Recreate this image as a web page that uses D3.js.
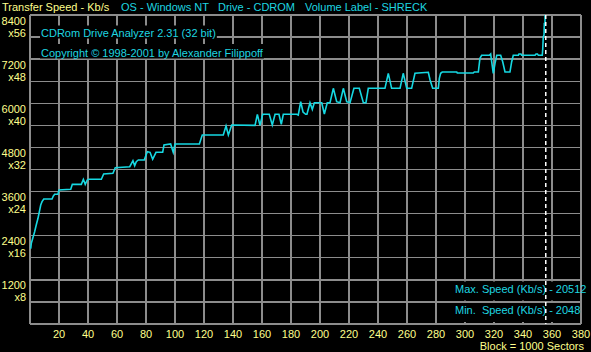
<!DOCTYPE html>
<meta charset="utf-8">
<style>
    body {
        margin: 0;
        background-color: #000;
    }

    svg text {
        font: 11px "Liberation Sans", Arial, sans-serif;
        white-space: pre;
    }

    .grid {
        stroke: #8c8c8c;
        stroke-width: 1.3;
        shape-rendering: crispEdges;
    }

    .trace {
        fill: none;
        stroke: #16d8e2;
        stroke-width: 1.6;
    }

    .yel { fill: #ffff8c; }
    .cyan { fill: #1ed6e0; }
</style>

<body>
    <script src="https://d3js.org/d3.v7.min.js"></script>
    <script>

        // transfer speed readings (block number, Kb/s)
        var blocks = [0.5, 0.9, 2.1, 3.2, 4.3, 5.5, 6.7, 7.4, 8.3, 9.5, 15.2, 16.1, 17.0, 19.3, 20.0, 28.1, 29.2, 35.4,
            36.8, 38.1, 39.5, 40.5, 49.2, 50.8, 57.2, 58.8, 68.8, 71.0, 72.2, 73.3, 74.7, 78.8, 79.8, 80.9, 82.8, 84.6,
            86.9, 91.5, 92.4, 97.0, 98.8, 100.0, 116.8, 118.8, 133.3, 135.2, 136.8, 139.1, 155.2, 156.8, 158.6, 160.5,
            165.0, 167.1, 169.0, 171.7, 173.3, 174.7, 183.9, 185.0, 186.7, 188.3, 190.1, 191.0, 193.1, 194.7, 196.1,
            201.2, 203.0, 205.0, 206.9, 209.2, 211.5, 213.8, 216.1, 218.4, 220.7, 223.4, 227.1, 229.9, 231.7, 233.3,
            244.8, 247.1, 249.4, 255.2, 257.4, 259.8, 263.2, 265.5, 274.7, 275.9, 277.0, 277.7, 281.6, 282.3, 283.2,
            284.3, 294.3, 294.7, 305.7, 306.4, 309.2, 310.3, 311.5, 316.8, 317.7, 318.4, 319.5, 320.7, 321.9, 324.6,
            326.0, 327.6, 331.0, 332.2, 333.3, 336.8, 337.2, 338.6, 339.1, 348.3, 349.0, 350.0, 350.6, 353.3, 353.6,
            354.0, 354.5, 354.7, 355.2, 355.6];
        var speeds = [2048, 2194, 2357, 2509, 2691, 2873, 3099, 3235, 3325, 3398, 3398, 3480, 3526, 3526, 3643, 3662, 3797, 3797,
            3933, 3797, 3914, 3933, 3933, 4078, 4096, 4249, 4276, 4439, 4303, 4412, 4458, 4458, 4567, 4684, 4667, 4477,
            4667, 4667, 4866, 4893, 4667, 4893, 4893, 5138, 5138, 5382, 5138, 5410, 5401, 5700, 5401, 5700,
            5700, 5410, 5700, 5700, 5428, 5700, 5700, 5680, 6043, 5763, 5700, 5700, 6016, 5836, 6016,
            6016, 5709, 6016, 6016, 6407, 6043, 6016, 6407, 6043, 6016, 6407, 6407, 6016, 6016, 6407,
            6407, 6815, 6407, 6407, 6815, 6407, 6407, 6815, 6842, 6633, 6497, 6407, 6407, 6679, 6815,
            6850, 6850, 6823, 6823, 6850, 6850, 7223, 7304, 7304, 7340, 7130, 6815, 7087, 7304, 7304,
            7130, 6850, 6850, 7130, 7304, 7304, 7340, 7340, 7304, 7304, 7340, 7340, 7304, 7304, 7467,
            7810, 7856, 8174, 8190, 20512];

        var maxSpeed = 20512, minSpeed = 2048, maxBlock = 355.7;

        var yTicks = [8400, 7200, 6000, 4800, 3600, 2400, 1200];
        var yMult = ["x56", "x48", "x40", "x32", "x24", "x16", "x8"];
        var xTicks = [20, 40, 60, 80, 100, 120, 140, 160, 180, 200, 220, 240, 260, 280, 300, 320, 340, 360, 380];

        var width = 591, height = 352;

        var x = d3.scaleLinear().domain([0, 380]).range([30, 581]);
        var y = d3.scaleLinear().domain([0, 8400]).range([324, 15]);

        var svg = d3.select("body").append("svg")
            .attr("width", width)
            .attr("height", height);

        svg.append("rect").attr("width", width).attr("height", height).attr("fill", "#000");

        // grid, every 20 blocks and every 600 Kb/s
        var grid = svg.append("g");
        grid.selectAll(".v").data(d3.range(0, 381, 20)).enter().append("line")
            .attr("class", "grid")
            .attr("x1", d => x(d)).attr("x2", d => x(d))
            .attr("y1", y(8400)).attr("y2", y(0));
        grid.selectAll(".h").data(d3.range(0, 8401, 600)).enter().append("line")
            .attr("class", "grid")
            .attr("x1", x(0)).attr("x2", x(380))
            .attr("y1", d => y(d)).attr("y2", d => y(d));

        svg.append("clipPath").attr("id", "plot")
            .append("rect")
            .attr("x", x(0)).attr("y", y(8400))
            .attr("width", x(380) - x(0)).attr("height", y(0) - y(8400));

        var line = d3.line()
            .x(function (d) { return x(d[0]); })
            .y(function (d) { return y(d[1]); });

        svg.append("path")
            .datum(d3.zip(blocks, speeds))
            .attr("class", "trace")
            .attr("clip-path", "url(#plot)")
            .attr("d", line);

        // y labels
        svg.selectAll(".yl").data(yTicks).enter().append("text")
            .attr("class", "yel")
            .attr("x", 26).attr("y", d => y(d) + 9.5)
            .attr("text-anchor", "end")
            .text(d => d);
        svg.selectAll(".ym").data(yTicks).enter().append("text")
            .attr("class", "yel")
            .attr("x", 26).attr("y", d => y(d) + 21.5)
            .attr("text-anchor", "end")
            .text((d, i) => yMult[i]);

        // x labels
        svg.selectAll(".xl").data(xTicks).enter().append("text")
            .attr("class", "yel")
            .attr("x", d => x(d)).attr("y", 337.5)
            .attr("text-anchor", "middle")
            .text(d => d);

        svg.append("text").attr("class", "yel")
            .attr("x", 584).attr("y", 349.5).attr("text-anchor", "end")
            .text("Block = 1000 Sectors");

        // header
        svg.append("text").attr("class", "yel").attr("x", 2).attr("y", 11).text("Transfer Speed - Kb/s");
        svg.append("text").attr("class", "cyan").attr("x", 121).attr("y", 11).text("OS - Windows NT");
        svg.append("text").attr("class", "cyan").attr("x", 218).attr("y", 11).text("Drive - CDROM");
        svg.append("text").attr("class", "cyan").attr("x", 305).attr("y", 11).text("Volume Label - SHRECK");

        // program banner inside the plot, on black boxes
        function boxedText(tx, ty, str, top, bottom) {
            var bg = svg.append("rect").attr("fill", "#000");
            var t = svg.append("text").attr("class", "cyan").attr("x", tx).attr("y", ty).text(str);
            var w = t.node().getComputedTextLength();
            bg.attr("x", tx - 1).attr("y", top).attr("width", w + 2).attr("height", bottom - top);
        }
        boxedText(41, 37, "CDRom Drive Analyzer 2.31 (32 bit)", 25.5, 38.5);
        boxedText(41, 56.5, "Copyright \u00a9 1998-2001 by Alexander Filippoff", 44, 58.5);

        // max / min box
        svg.append("rect").attr("x", 453).attr("y", 281.5).attr("width", 127).attr("height", 19).attr("fill", "#000");
        svg.append("rect").attr("x", 453).attr("y", 303).attr("width", 127).attr("height", 19).attr("fill", "#000");
        svg.append("text").attr("class", "cyan").attr("x", 455).attr("y", 293).text("Max. Speed (Kb/s) - " + maxSpeed);
        svg.append("text").attr("class", "cyan").attr("x", 455).attr("y", 313.5).text("Min.  Speed (Kb/s) - " + minSpeed);

        // end of disc marker
        svg.append("line")
            .attr("x1", x(maxBlock)).attr("x2", x(maxBlock))
            .attr("y1", y(8400)).attr("y2", y(0))
            .attr("stroke", "#fff").attr("stroke-width", 1.5)
            .attr("stroke-dasharray", "4,3");

    </script>
</body>
